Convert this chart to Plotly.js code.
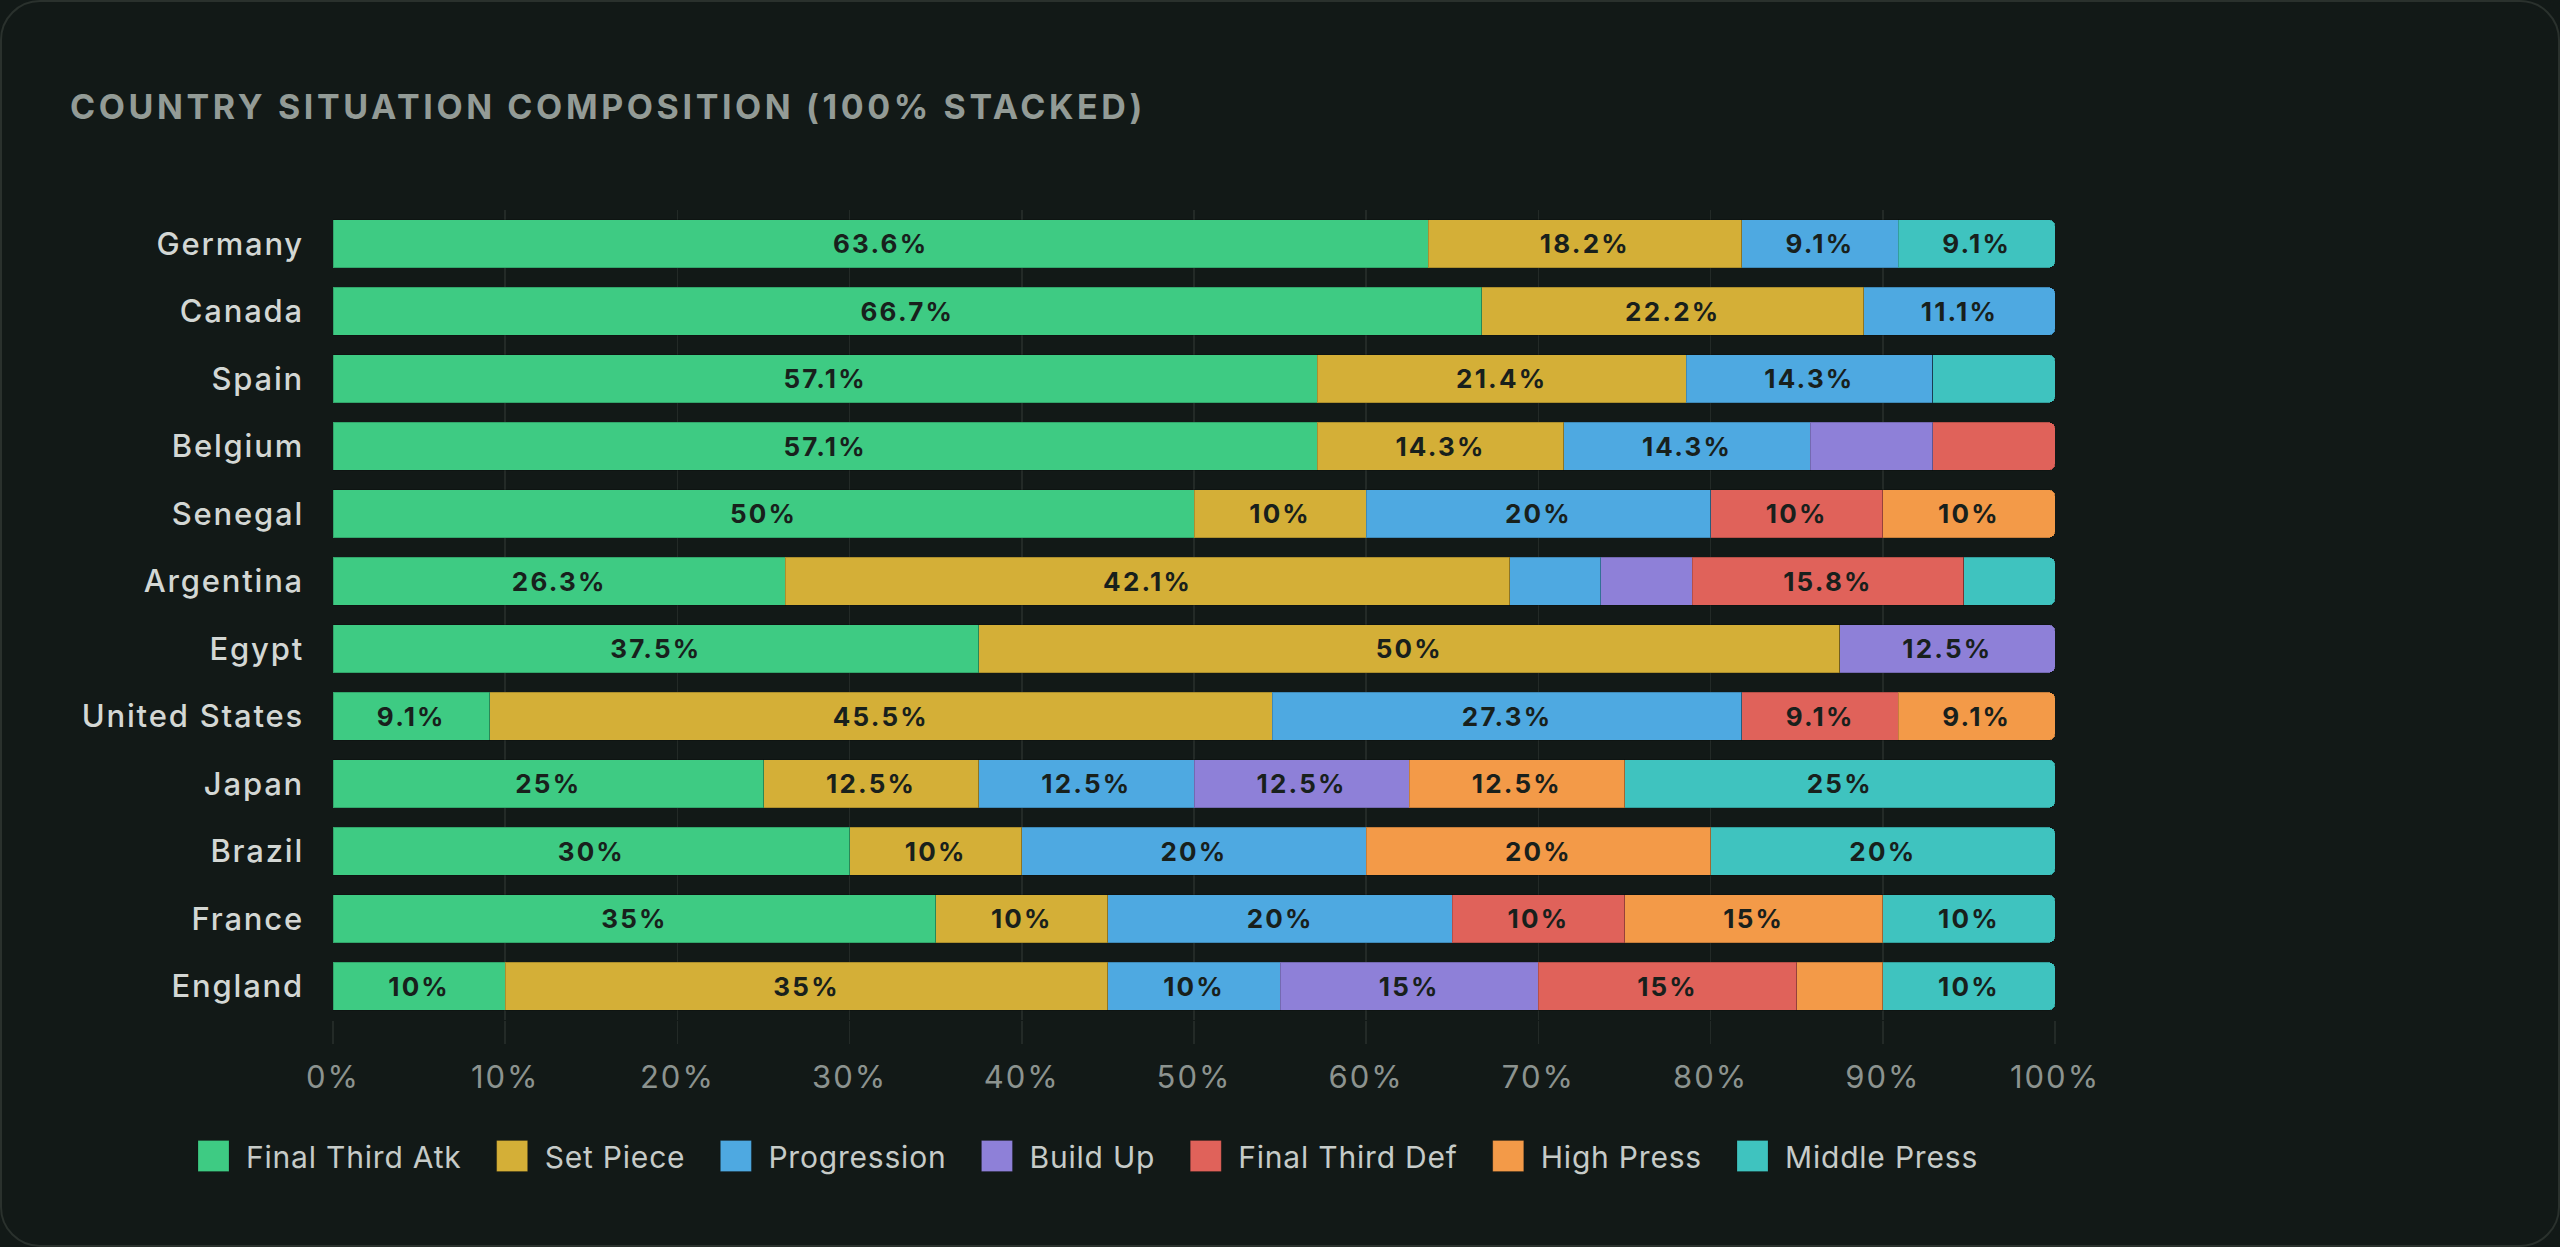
<!DOCTYPE html>
<html>
<head>
<meta charset="utf-8">
<script src="https://cdn.plot.ly/plotly-3.0.1.min.js"></script>
<style>
  html, body { margin:0; padding:0; background:#121917; width:2560px; height:1247px; overflow:hidden; }
  #card { position:absolute; left:0; top:0; width:2556px; height:1243px; border:2px solid #2a312d; border-radius:40px; background:#121917; }
  #chart { position:absolute; left:0; top:0; width:2560px; height:1247px; }
  #chart .gtitle { letter-spacing:3.6px; }
  #chart .bartext { letter-spacing:2.2px; }
  #chart .xtick text { letter-spacing:2px; }
  #chart .ytick text { letter-spacing:1.8px; }
  #chart .legendtext { letter-spacing:0.8px; }
</style>
</head>
<body>
<div id="card"></div>
<div id="chart"></div>
<script>
// ---------- data (percent of each country's situations) ----------
const countries = ['Germany','Canada','Spain','Belgium','Senegal','Argentina','Egypt','United States','Japan','Brazil','France','England'];
const finalThirdAtk = [63.6, 66.7, 57.1, 57.1, 50, 26.3, 37.5,  9.1, 25,   30, 35, 10];
const setPiece      = [18.2, 22.2, 21.4, 14.3, 10, 42.1, 50,   45.5, 12.5, 10, 10, 35];
const progression   = [ 9.1, 11.1, 14.3, 14.3, 20,  5.3,  0,   27.3, 12.5, 20, 20, 10];
const buildUp       = [ 0,    0,    0,    7.1,  0,  5.3, 12.5,  0,   12.5,  0,  0, 15];
const finalThirdDef = [ 0,    0,    0,    7.1, 10, 15.8,  0,    9.1,  0,    0, 10, 15];
const highPress     = [ 0,    0,    0,    0,   10,  0,    0,    9.1, 12.5, 20, 15,  5];
const middlePress   = [ 9.1,  0,    7.1,  0,    0,  5.3,  0,    0,   25,   20, 10, 10];
const seriesNames   = ['Final Third Atk','Set Piece','Progression','Build Up','Final Third Def','High Press','Middle Press'];
const seriesValues  = [finalThirdAtk, setPiece, progression, buildUp, finalThirdDef, highPress, middlePress];
const xTickValues   = [0,10,20,30,40,50,60,70,80,90,100];
const xTickLabels   = ['0%','10%','20%','30%','40%','50%','60%','70%','80%','90%','100%'];

// ---------- styles ----------
const seriesColors = ['#3ecb83','#d4af37','#4ea9e1','#8e80d8','#e0625a','#f39a48','#3fc3bf'];
const LABEL_MIN = 8;
function fmt(v){ return (Math.round(v*10)/10).toString() + '%'; }

const traces = seriesValues.map((vals, i) => ({
  type: 'bar',
  orientation: 'h',
  name: seriesNames[i],
  y: countries,
  x: vals,
  marker: { color: seriesColors[i], line: { color: 'rgba(0,0,0,0.18)', width: 1 } },
  text: vals.map(v => v >= LABEL_MIN ? fmt(v) : ''),
  textposition: 'inside',
  insidetextanchor: 'middle',
  textangle: 0,
  constraintext: 'none',
  textfont: { family: 'Inter, sans-serif', size: 26, color: '#18201c', weight: 700 },
  hoverinfo: 'skip'
}));

const layout = {
  width: 2560, height: 1247,
  paper_bgcolor: 'rgba(0,0,0,0)',
  plot_bgcolor: 'rgba(0,0,0,0)',
  margin: { l: 333, r: 505, t: 210, b: 227, pad: 0 },
  barmode: 'stack',
  barnorm: 'percent',
  bargap: 0.29,
  barcornerradius: 6,
  font: { family: 'Inter, sans-serif', color: '#c6cbc8' },
  title: {
    text: 'COUNTRY SITUATION COMPOSITION (100% STACKED)',
    xref: 'container', x: 70/2560, xanchor: 'left',
    yref: 'container', y: 1 - 107/1247, yanchor: 'middle',
    font: { family: 'Inter, sans-serif', size: 34, color: '#939b96', weight: 700 }
  },
  xaxis: {
    range: [0, 100],
    tickmode: 'array', tickvals: xTickValues, ticktext: xTickLabels,
    ticks: 'outside', ticklen: 23, tickwidth: 1.5, tickcolor: '#232a27',
    showgrid: true, gridcolor: '#232a27', gridwidth: 1.5,
    zeroline: false, showline: false,
    tickfont: { family: 'Inter, sans-serif', size: 31, color: '#8c938f' },
    ticklabelstandoff: 7,
    fixedrange: true
  },
  yaxis: {
    type: 'category',
    autorange: 'reversed',
    ticks: '', showgrid: false, zeroline: false, showline: false,
    tickfont: { family: 'Inter, sans-serif', size: 31, color: '#d3d7d4', weight: 500 },
    ticklabelstandoff: 28,
    fixedrange: true
  },
  showlegend: true,
  legend: {
    orientation: 'h',
    xref: 'container', x: 0.05, xanchor: 'left',
    yref: 'container', y: 1 - 1156/1247, yanchor: 'middle',
    font: { family: 'Inter, sans-serif', size: 30, color: '#c6cbc8' },
    bgcolor: 'rgba(0,0,0,0)',
    traceorder: 'normal'
  }
};

// legend swatch geometry (Chart.js-like)
const LEGEND_START = 198, SQ = 31, SQ_TEXT_GAP = 48, ITEM_GAP = 35;

function fixLegend(gd){
  const leg = gd.querySelector('g.legend');
  if (!leg) return;
  leg.querySelectorAll('[clip-path]').forEach(e => e.removeAttribute('clip-path'));
  let sqLeft = LEGEND_START;
  leg.querySelectorAll('g.traces').forEach(g => {
    const text = g.querySelector('text.legendtext');
    const m = /translate\(\s*([-\d.e]+)[ ,]+([-\d.e]+)\s*\)/.exec(g.getAttribute('transform') || '');
    let tx = m ? +m[1] : 0, ty = m ? +m[2] : 0;
    const tr = text.getBoundingClientRect();
    tx += (sqLeft + SQ_TEXT_GAP) - tr.left;
    g.setAttribute('transform', 'translate(' + tx + ',' + ty + ')');
    const p = g.querySelector('.legendpoints path');
    if (p) {
      p.setAttribute('d', 'M6,6H-6V-6H6Z');
      const bb = p.getBBox();
      const r = p.getBoundingClientRect();
      const s = SQ / bb.width;
      const cx = bb.x + bb.width/2, cy = bb.y + bb.height/2;
      const dx = (sqLeft + SQ/2) - (r.left + r.width/2);
      const ex = p.getAttribute('transform') || '';
      p.setAttribute('transform', ex + ' translate(' + dx + ',0) translate(' + cx + ',' + cy + ') scale(' + s + ') translate(' + (-cx) + ',' + (-cy) + ')');
      p.style.vectorEffect = 'non-scaling-stroke';
    }
    const tr2 = text.getBoundingClientRect();
    sqLeft = tr2.right + ITEM_GAP;
  });
}

const gd = document.getElementById('chart');
Plotly.newPlot(gd, traces, layout, { staticPlot: true, displayModeBar: false }).then(() => fixLegend(gd));
</script>
</body>
</html>
